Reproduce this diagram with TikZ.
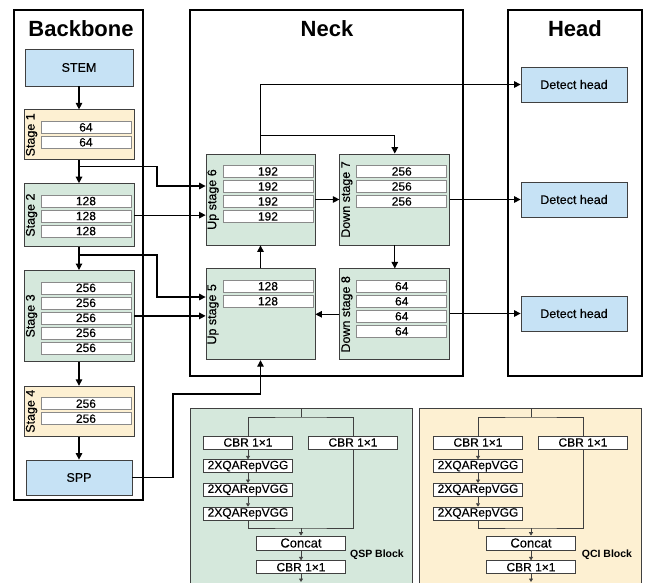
\documentclass[tikz,border=0pt]{standalone}
\usepackage{fontspec}
\setmainfont{Liberation Sans}
\newfontfamily\medfont[FakeBold=0.35]{Liberation Sans}
\usepackage{xcolor}
\definecolor{cBlue}{HTML}{C6E2F5}
\definecolor{cYellow}{HTML}{FDF0D2}
\definecolor{cGreen}{HTML}{D5E8DC}
\definecolor{cLine}{HTML}{404040}
\definecolor{cCell}{HTML}{8A8A8A}
\usepackage{tikz}
\usetikzlibrary{positioning,arrows.meta,calc}
\tikzset{
  frame-box/.style={draw=black,line width=1.2pt},
  frame-title/.style={font=\fontsize{22}{26}\selectfont\bfseries,anchor=base},
  node-blue/.style={draw=cLine,line width=0.8pt,fill=cBlue,minimum width=106pt,
    minimum height=35pt,inner sep=0pt,font=\medfont\fontsize{12.5}{14}\selectfont},
  node-stage/.style={draw=cLine,line width=0.8pt,minimum width=110pt,inner sep=0pt},
  node-cell/.style={draw=cCell,line width=0.7pt,fill=white,minimum width=90pt,
    minimum height=12pt,inner sep=0pt,font=\medfont\fontsize{12}{12}\selectfont},
  stage-label/.style={rotate=90,inner sep=0pt,font=\medfont\fontsize{12.5}{14}\selectfont},
  block-box/.style={draw=cLine,line width=0.8pt},
  block-cell/.style={draw=cLine,line width=0.7pt,fill=white,minimum width=89pt,
    minimum height=13pt,inner sep=0pt,font=\medfont\fontsize{12}{12}\selectfont},
  block-label/.style={font=\fontsize{10.5}{12}\selectfont\bfseries},
  arrow/.style={-{Triangle[length=6.5pt,width=6.5pt]},line width=1.2pt},
  arrow-small/.style={-{Triangle[length=3.5pt,width=4pt]},line width=0.8pt,draw=cLine},
  link/.style={line width=0.8pt,draw=cLine},
}

\begin{document}
\begin{tikzpicture}[x=1pt,y=-1pt,node distance=23pt]
  \useasboundingbox (0,0) rectangle (646,582);
  \clip (0,0) rectangle (646,582);

  % frames
  \draw[frame-box] (14,10) rectangle (143,500);
  \draw[frame-box] (190,10) rectangle (463,376);
  \draw[frame-box] (508,10) rectangle (642,376);
  \node[frame-title] (t-backbone) at (81,36.5) {Backbone};
  \node[frame-title] (t-neck) at (327,36.5) {Neck};
  \node[frame-title] (t-head) at (575,36.5) {Head};

  % backbone
  \node[node-blue,minimum width=108pt,minimum height=37pt] (stem) at (79,67.5) {STEM};
  \node[node-stage,fill=cYellow,minimum height=50pt,below=of stem] (s1) {};
  \node[node-stage,fill=cGreen,minimum height=63pt,below=of s1] (s2) {};
  \node[node-stage,fill=cGreen,minimum height=91pt,below=of s2] (s3) {};
  \node[node-stage,fill=cYellow,minimum height=50pt,below=24pt of s3] (s4) {};
  \node[node-blue,below=of s4] (spp) {SPP};

  \node[stage-label] (s1-lab) at ($(s1.west)+(8,0)$) {Stage 1};
  \node[node-cell,anchor=north west] (s1a) at ($(s1.north west)+(17,11.5)$) {64};
  \node[node-cell,below=2.3pt of s1a] (s1b) {64};

  \node[stage-label] (s2-lab) at ($(s2.west)+(8,0)$) {Stage 2};
  \node[node-cell,anchor=north west] (s2a) at ($(s2.north west)+(17,11.5)$) {128};
  \node[node-cell,below=2.3pt of s2a] (s2b) {128};
  \node[node-cell,below=2.3pt of s2b] (s2c) {128};

  \node[stage-label] (s3-lab) at ($(s3.west)+(8,0)$) {Stage 3};
  \node[node-cell,anchor=north west] (s3a) at ($(s3.north west)+(17,11.5)$) {256};
  \node[node-cell,below=2.3pt of s3a] (s3b) {256};
  \node[node-cell,below=2.3pt of s3b] (s3c) {256};
  \node[node-cell,below=2.3pt of s3c] (s3d) {256};
  \node[node-cell,below=2.3pt of s3d] (s3e) {256};

  \node[stage-label] (s4-lab) at ($(s4.west)+(8,0)$) {Stage 4};
  \node[node-cell,anchor=north west] (s4a) at ($(s4.north west)+(17,11.5)$) {256};
  \node[node-cell,below=2.3pt of s4a] (s4b) {256};

  % neck
  \node[node-stage,fill=cGreen,minimum width=109pt,minimum height=91pt] (up6) at (260.5,199.5) {};
  \node[node-stage,fill=cGreen,minimum height=91pt,right=24pt of up6] (ds7) {};
  \node[node-stage,fill=cGreen,minimum width=109pt,minimum height=91pt,below=of up6] (up5) {};
  \node[node-stage,fill=cGreen,minimum height=91pt,right=24pt of up5] (ds8) {};

  \node[stage-label] (up6-lab) at ($(up6.west)+(7.5,0)$) {Up stage 6};
  \node[node-cell,anchor=north west] (up6a) at ($(up6.north west)+(17,11.5)$) {192};
  \node[node-cell,below=2.3pt of up6a] (up6b) {192};
  \node[node-cell,below=2.3pt of up6b] (up6c) {192};
  \node[node-cell,below=2.3pt of up6c] (up6d) {192};

  \node[stage-label] (ds7-lab) at ($(ds7.west)+(7.5,0)$) {Down stage 7};
  \node[node-cell,anchor=north west] (ds7a) at ($(ds7.north west)+(17,11.5)$) {256};
  \node[node-cell,below=2.3pt of ds7a] (ds7b) {256};
  \node[node-cell,below=2.3pt of ds7b] (ds7c) {256};

  \node[stage-label] (up5-lab) at ($(up5.west)+(7.5,0)$) {Up stage 5};
  \node[node-cell,anchor=north west] (up5a) at ($(up5.north west)+(17,11.5)$) {128};
  \node[node-cell,below=2.3pt of up5a] (up5b) {128};

  \node[stage-label] (ds8-lab) at ($(ds8.west)+(7.5,0)$) {Down stage 8};
  \node[node-cell,anchor=north west] (ds8a) at ($(ds8.north west)+(17,11.5)$) {64};
  \node[node-cell,below=2.3pt of ds8a] (ds8b) {64};
  \node[node-cell,below=2.3pt of ds8b] (ds8c) {64};
  \node[node-cell,below=2.3pt of ds8c] (ds8d) {64};

  % head
  \node[node-blue] (dh1) at (574,84.5) {Detect head};
  \node[node-blue] (dh2) at (574,199.5) {Detect head};
  \node[node-blue] (dh3) at (574,313.5) {Detect head};

  % backbone arrows
  \draw[arrow] (stem) -- (s1);
  \draw[arrow] (s1) -- (s2);
  \draw[arrow] (s2) -- (s3);
  \draw[arrow] (s3) -- (s4);
  \draw[arrow] (s4) -- (spp);

  % backbone -> neck
  \coordinate (b1) at ($(s1.south)+(0,6)$);
  \coordinate (j1) at (157,186);
  \draw[arrow] (b1) -| (j1) -- (j1 -| up6.west);
  \draw[arrow] (s2.east) -- (s2.east -| up6.west);
  \coordinate (b2) at ($(s2.south)+(0,8)$);
  \coordinate (j2) at (157,297);
  \draw[arrow] (b2) -| (j2) -- (j2 -| up5.west);
  \draw[arrow] (s3.east) -- (s3.east -| up5.west);
  \coordinate (j3) at (173,394);
  \draw[arrow] (spp.east) -| (j3) -| (up5.south);

  % neck arrows
  \draw[arrow] (up5) -- (up6);
  \draw[arrow] (up6) -- (ds7);
  \draw[arrow] (ds7) -- (ds8);
  \draw[arrow] (ds8) -- (up5);
  \coordinate (j4) at ($(ds7.north)+(0,-18)$);
  \draw[arrow] (up6.north) |- (j4) -- (ds7.north);
  \draw[arrow] (up6.north) |- (dh1.west);
  \draw[arrow] (ds7.east |- dh2.west) -- (dh2.west);
  \draw[arrow] (ds8.east |- dh3.west) -- (dh3.west);

  % QSP block
  \draw[block-box,fill=cGreen] (190,408) rectangle (412,600);
  \node[block-cell] (qsp-cbr1) at (248,442.5) {CBR 1×1};
  \node[block-cell] (qsp-cbr2) at (353,442.5) {CBR 1×1};
  \node[block-cell,below=10pt of qsp-cbr1] (qsp-rep1) {2XQARepVGG};
  \node[block-cell,below=10pt of qsp-rep1] (qsp-rep2) {2XQARepVGG};
  \node[block-cell,below=10pt of qsp-rep2] (qsp-rep3) {2XQARepVGG};
  \node[block-cell,minimum height=14pt,font=\medfont\fontsize{13}{13}\selectfont] (qsp-concat) at (301,543) {Concat};
  \node[block-cell,below=10pt of qsp-concat] (qsp-cbr3) {CBR 1×1};
  \node[block-label] (qsp-lab) at (377,555) {QSP Block};
  \coordinate (qsp-in) at (301,408);
  \coordinate (qsp-split) at (301,417);
  \coordinate (qsp-merge) at (301,528);
  \coordinate (qsp-out) at (301,582);
  \draw[link] (qsp-in) -- (qsp-split);
  \draw[link] (qsp-cbr1.north) |- (qsp-split) -| (qsp-cbr2.north);
  \draw[arrow-small] (qsp-cbr1) -- (qsp-rep1);
  \draw[arrow-small] (qsp-rep1) -- (qsp-rep2);
  \draw[arrow-small] (qsp-rep2) -- (qsp-rep3);
  \draw[link] (qsp-rep3.south) |- (qsp-merge) -| (qsp-cbr2.south);
  \draw[arrow-small] (qsp-merge) -- (qsp-concat);
  \draw[arrow-small] (qsp-concat) -- (qsp-cbr3);
  \draw[arrow-small] (qsp-cbr3) -- (qsp-out);

  % QCI block
  \draw[block-box,fill=cYellow] (419,408) rectangle (641,600);
  \node[block-cell] (qci-cbr1) at (478,442.5) {CBR 1×1};
  \node[block-cell] (qci-cbr2) at (583,442.5) {CBR 1×1};
  \node[block-cell,below=10pt of qci-cbr1] (qci-rep1) {2XQARepVGG};
  \node[block-cell,below=10pt of qci-rep1] (qci-rep2) {2XQARepVGG};
  \node[block-cell,below=10pt of qci-rep2] (qci-rep3) {2XQARepVGG};
  \node[block-cell,minimum height=14pt,font=\medfont\fontsize{13}{13}\selectfont] (qci-concat) at (531,543) {Concat};
  \node[block-cell,below=10pt of qci-concat] (qci-cbr3) {CBR 1×1};
  \node[block-label] (qci-lab) at (607,555) {QCI Block};
  \coordinate (qci-in) at (531,408);
  \coordinate (qci-split) at (531,417);
  \coordinate (qci-merge) at (531,528);
  \coordinate (qci-out) at (531,582);
  \draw[link] (qci-in) -- (qci-split);
  \draw[link] (qci-cbr1.north) |- (qci-split) -| (qci-cbr2.north);
  \draw[arrow-small] (qci-cbr1) -- (qci-rep1);
  \draw[arrow-small] (qci-rep1) -- (qci-rep2);
  \draw[arrow-small] (qci-rep2) -- (qci-rep3);
  \draw[link] (qci-rep3.south) |- (qci-merge) -| (qci-cbr2.south);
  \draw[arrow-small] (qci-merge) -- (qci-concat);
  \draw[arrow-small] (qci-concat) -- (qci-cbr3);
  \draw[arrow-small] (qci-cbr3) -- (qci-out);
\end{tikzpicture}
\end{document}
